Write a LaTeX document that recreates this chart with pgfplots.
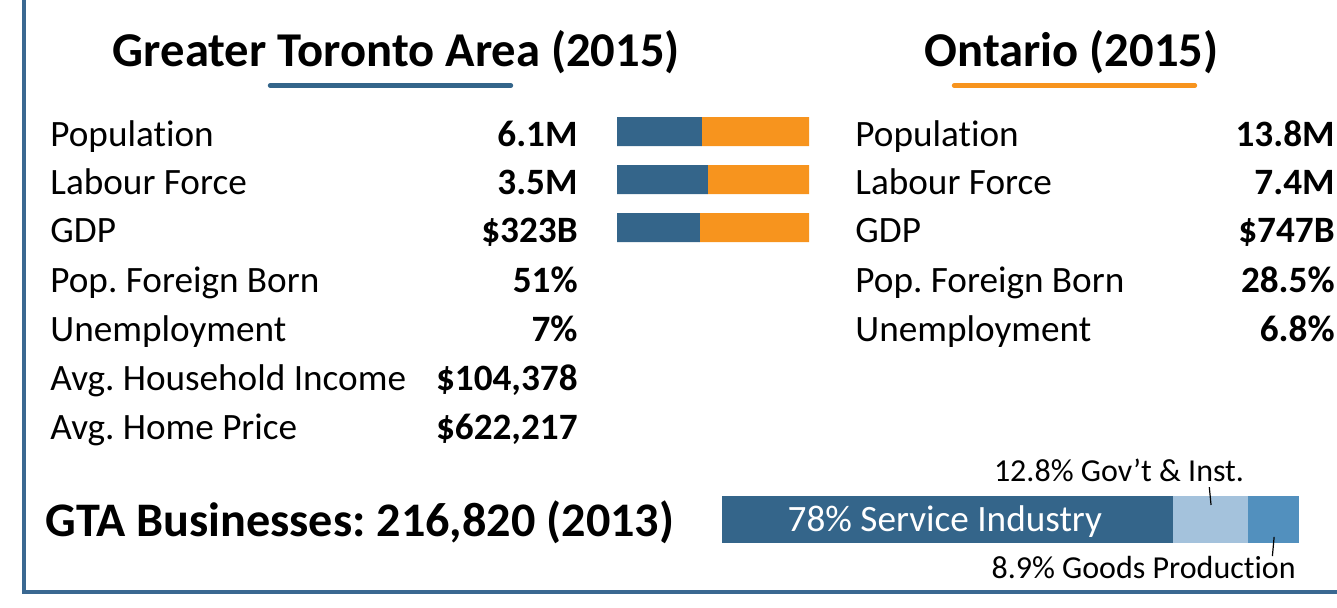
\documentclass[border=0pt]{standalone}
\usepackage{pgfplots}
\pgfplotsset{compat=1.18}
\usepackage{pgfplotstable}
\usepackage{fontspec}
\setmainfont{Carlito}[Ligatures=NoCommon]
\frenchspacing
\definecolor{gtablue}{RGB}{52,101,138}
\definecolor{framblue}{RGB}{58,104,145}
\definecolor{onorange}{RGB}{247,148,30}
\definecolor{lightblue}{RGB}{164,194,220}
\definecolor{midblue}{RGB}{82,144,190}
\pgfplotstableread{
row gta rest
0 44.2 55.8
1 47.3 52.7
2 43.2 56.8
}\sharetable
\newcommand{\bodyf}{\fontsize{18.6}{22}\selectfont}
\newcommand{\titlef}{\fontsize{24.3}{28}\selectfont\bfseries}
\newcommand{\annf}{\fontsize{16}{19}\selectfont}
\begin{document}
\begin{tikzpicture}
\begin{scope}[x=0.5pt,y=-0.5pt]
\useasboundingbox (0,0) rectangle (1337,607);
\clip (0,0) rectangle (1337,607);
% frame
\draw[framblue, line width=2pt] (24,0) -- (24,592) -- (1337,592);
% titles
\node[anchor=base, inner sep=0pt] at (396.5,66) {\titlef Greater Toronto Area (2015)};
\node[anchor=base, inner sep=0pt] at (1071.5,66) {\titlef Ontario (2015)};
\draw[gtablue, line width=2.2pt, line cap=round] (270,85.5) -- (511,85.5);
\draw[onorange, line width=2.2pt, line cap=round] (954,85.5) -- (1195,85.5);
% left table
\foreach \lab/\val/\yy in {Population/6.1M/146, Labour Force/3.5M/194, GDP/\$323B/242, Pop. Foreign Born/51\%/292, Unemployment/7\%/341, Avg. Household Income/\$104{,}378/390, Avg. Home Price/\$622{,}217/439}{
  \node[anchor=base west, inner sep=0pt] at (50,\yy) {\bodyf \lab};
  \node[anchor=base east, inner sep=0pt] at (578,\yy) {\bodyf\bfseries \val};
}
\foreach \lab/\val/\yy in {Population/13.8M/146, Labour Force/7.4M/194, GDP/\$747B/242, Pop. Foreign Born/28.5\%/292, Unemployment/6.8\%/341}{
  \node[anchor=base west, inner sep=0pt] at (855,\yy) {\bodyf \lab};
  \node[anchor=base east, inner sep=0pt] at (1335,\yy) {\bodyf\bfseries \val};
}
\node[anchor=base, inner sep=0pt] at (360,536) {\fontsize{24.1}{28}\selectfont\bfseries GTA Businesses: 216,820 (2013)};
\node[anchor=base, inner sep=0pt] at (1119,481) {\annf 12.8\% Gov't \& Inst.};
\node[anchor=base east, inner sep=0pt] at (1296,578) {\annf 8.9\% Goods Production};
\end{scope}
% comparison bars
\begin{axis}[at={(308.5pt,-58.5pt)}, anchor=north west,
  width=96pt, height=62.5pt, scale only axis,
  xbar stacked, bar width=14.5pt,
  xmin=0, xmax=100, ymin=-0.302, ymax=2.302, y dir=reverse,
  hide axis]
\addplot[fill=gtablue, draw=none] table[x=gta,y=row]{\sharetable};
\addplot[fill=onorange, draw=none] table[x=rest,y=row]{\sharetable};
\end{axis}
% business bar
\begin{axis}[at={(361pt,-248pt)}, anchor=north west,
  width=288.5pt, height=23.5pt, scale only axis,
  xbar stacked, bar width=23.5pt,
  xmin=0, xmax=99.7, ymin=-0.5, ymax=0.5,
  hide axis, clip=false]
\addplot[fill=gtablue, draw=none] coordinates {(78,0)};
\addplot[fill=lightblue, draw=none] coordinates {(12.8,0)};
\addplot[fill=midblue, draw=none] coordinates {(8.9,0)};
\coordinate (svc) at (axis cs:38.5,-0.26);
\coordinate (g1) at (axis cs:84.2,0.69);
\coordinate (g2) at (axis cs:84.5,0.31);
\coordinate (p1) at (axis cs:95.4,-0.37);
\coordinate (p2) at (axis cs:95.1,-0.78);
\end{axis}
\node[anchor=base, inner sep=0pt, text=white] at (svc) {\bodyf 78\% Service Industry};
\draw[black, line width=0.6pt] (g1) -- (g2);
\draw[black, line width=0.6pt] (p1) -- (p2);
\end{tikzpicture}
\end{document}
